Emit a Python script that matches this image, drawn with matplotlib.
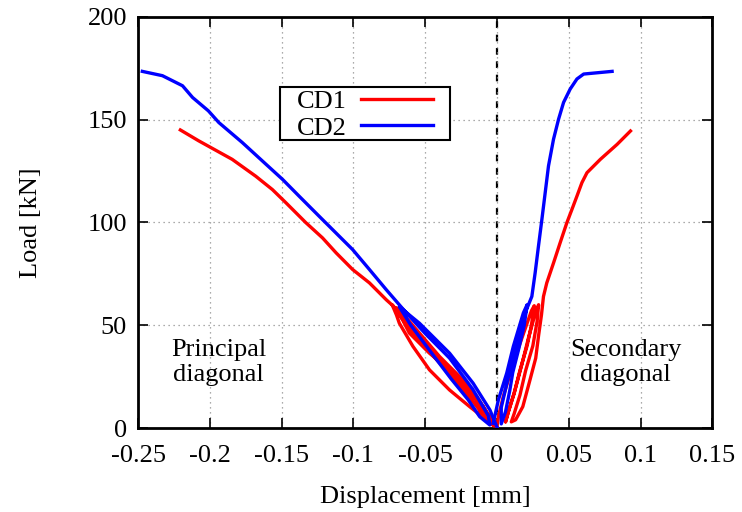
import matplotlib
matplotlib.use("Agg")
import matplotlib.pyplot as plt
from matplotlib.patches import Rectangle

plt.rcParams['font.family'] = ['Liberation Serif', 'DejaVu Serif']
plt.rcParams['axes.unicode_minus'] = False

# CD1 - principal diagonal (negative displacement), 3 cycles then envelope
cd1_p_x = [0.000, -0.005, -0.014, -0.026, -0.040, -0.054, -0.066, -0.070,
           -0.066, -0.061, -0.047, -0.033, -0.019, -0.0096, -0.004, -0.002,
           -0.006, -0.015, -0.028, -0.042, -0.056, -0.068, -0.073,
           -0.070, -0.068, -0.0585, -0.047, -0.033, -0.019, -0.0072, -0.002,
           -0.008, -0.018, -0.030, -0.043, -0.057, -0.068, -0.0725,
           -0.0771, -0.0888, -0.1005, -0.112, -0.1215, -0.1331, -0.147,
           -0.1564, -0.168, -0.1844, -0.2077, -0.2205]
cd1_p_y = [0.5, 5.5, 15.3, 25.0, 34.8, 46.2, 56.0, 58.5,
           53.0, 46.2, 36.4, 28.3, 18.5, 10.4, 4.0, 1.5,
           5.0, 14.0, 24.0, 34.0, 46.0, 56.0, 60.0,
           55.0, 51.0, 39.7, 28.3, 18.5, 10.4, 3.9, 1.0,
           5.0, 14.0, 24.0, 34.0, 45.0, 55.0, 59.5,
           62.4, 70.6, 77.1, 85.2, 92.5, 99.9, 109.6,
           116.0, 122.5, 130.7, 139.7, 145.0]

# CD1 - secondary diagonal (positive displacement)
cd1_s_x = [0.000, 0.001, 0.0044, 0.0114, 0.018, 0.024, 0.026,
           0.024, 0.021, 0.016, 0.012, 0.008, 0.006,
           0.008, 0.012, 0.017, 0.022, 0.026, 0.029,
           0.028, 0.025, 0.020, 0.016, 0.012, 0.010,
           0.013, 0.018, 0.023, 0.027, 0.029, 0.031,
           0.0324, 0.0347, 0.0394, 0.044, 0.0487, 0.0522, 0.0557, 0.0592,
           0.0627, 0.072, 0.0837, 0.093]
cd1_s_y = [0.5, 5.5, 15.3, 31.6, 45.0, 57.0, 59.5,
           50.0, 40.0, 28.0, 17.0, 8.0, 3.0,
           8.0, 17.0, 30.0, 44.0, 54.0, 60.0,
           52.0, 40.0, 28.0, 16.0, 7.0, 3.0,
           4.0, 10.4, 23.4, 34.0, 45.0, 55.0,
           64.0, 70.6, 80.3, 90.1, 99.9, 106.3, 112.8, 119.4,
           124.2, 130.7, 138.0, 144.5]

# CD2 - principal diagonal
cd2_p_x = [0.000, -0.0049, -0.0166, -0.033, -0.054, -0.068,
           -0.060, -0.045, -0.032, -0.020, -0.012, -0.005,
           -0.006, -0.017, -0.033, -0.050, -0.0631,
           -0.0771, -0.0888, -0.1005, -0.112, -0.1238, -0.1378, -0.1494,
           -0.161, -0.1774, -0.1937, -0.201, -0.212, -0.219, -0.233, -0.247]
cd2_p_y = [0.5, 8.8, 21.8, 36.4, 51.0, 59.0,
           50.0, 36.0, 24.0, 13.7, 5.5, 1.5,
           6.0, 19.0, 34.0, 46.0, 56.0,
           67.3, 77.1, 86.8, 94.8, 103.0, 112.8, 121.0,
           128.4, 138.9, 148.6, 154.3, 160.8, 166.5, 171.4, 173.5]

# CD2 - secondary diagonal
cd2_s_x = [-0.0026, 0.001, 0.0068, 0.0114, 0.0184, 0.021,
           0.019, 0.015, 0.011, 0.009, 0.006, 0.003,
           0.003, 0.007, 0.012, 0.018, 0.0208, 0.0243,
           0.0266, 0.0289, 0.0313, 0.0336, 0.0359, 0.0394, 0.0429,
           0.0464, 0.051, 0.0557, 0.0604, 0.0802]
cd2_s_y = [2.3, 13.7, 26.7, 39.7, 56.0, 60.0,
           50.0, 38.0, 27.0, 18.5, 8.0, 2.0,
           10.0, 22.0, 36.0, 52.0, 58.0, 64.0,
           75.5, 88.4, 101.5, 114.5, 127.5, 140.5, 150.2,
           158.4, 164.9, 169.8, 172.2, 173.5]

x_ticks = [-0.25, -0.2, -0.15, -0.1, -0.05, 0, 0.05, 0.1, 0.15]
x_labels = ['-0.25', '-0.2', '-0.15', '-0.1', '-0.05', '0', '0.05', '0.1', '0.15']
y_ticks = [0, 50, 100, 150, 200]

fig = plt.figure(figsize=(7.42, 5.12), dpi=100)
ax = fig.add_axes([0.186, 0.164, 0.774, 0.803])

ax.grid(True, color='#909090', linestyle=(0, (1, 3)), linewidth=0.9)
ax.axvline(0, color='black', linestyle=(0, (3, 3)), linewidth=1.6, zorder=1)

ax.plot(cd1_p_x, cd1_p_y, color='#ff0000', lw=2.4, label='CD1', zorder=3)
ax.plot(cd1_s_x, cd1_s_y, color='#ff0000', lw=2.4, zorder=3)
ax.plot(cd2_p_x, cd2_p_y, color='#0000ff', lw=2.4, label='CD2', zorder=4)
ax.plot(cd2_s_x, cd2_s_y, color='#0000ff', lw=2.4, zorder=4)

ax.set_xlim(-0.25, 0.15)
ax.set_ylim(0, 200)
ax.set_xticks(x_ticks)
ax.set_xticklabels(x_labels)
ax.set_yticks(y_ticks)
ax.tick_params(direction='in', length=7, width=1.2, labelsize=19,
               top=True, right=True, pad=8)
ax.tick_params(axis='x', pad=12)
for s in ax.spines.values():
    s.set_linewidth(2)

ax.set_xlabel('Displacement [mm]', fontsize=19, labelpad=14)
ax.set_ylabel('Load [kN]', fontsize=19, labelpad=33)

ax.text(-0.194, 32, 'Principal\ndiagonal', fontsize=19, ha='center',
        va='center', linespacing=1.15)
ax.text(0.0895, 32, 'Secondary\ndiagonal', fontsize=19, ha='center',
        va='center', linespacing=1.15)

# legend frame drawn separately (wide side padding like the original)
frame = Rectangle((0.3774, 0.7266), 0.2291, 0.1035, transform=fig.transFigure,
                  facecolor='white', edgecolor='black', linewidth=1.5, zorder=2)
fig.add_artist(frame)
leg = fig.legend(loc='upper left', bbox_to_anchor=(0.4003, 0.8252),
                 fontsize=19, markerfirst=False, frameon=False,
                 handlelength=2.73, borderaxespad=0, borderpad=0,
                 labelspacing=0.12, handletextpad=0.53)
leg.set_zorder(3)

fig.savefig('out.png', dpi=100)
